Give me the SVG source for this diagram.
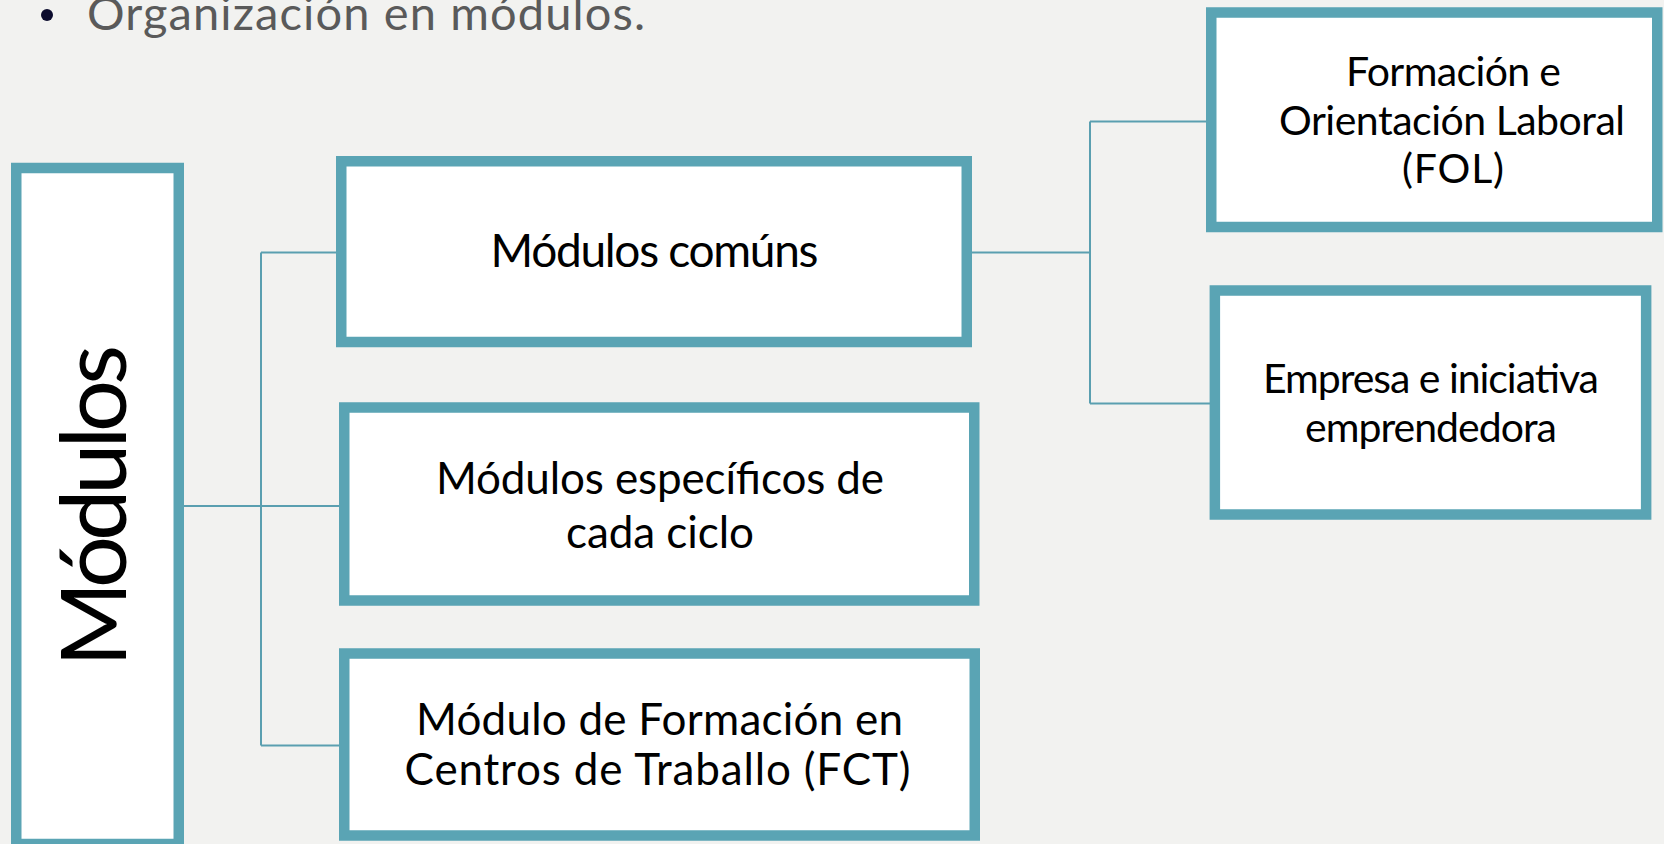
<svg xmlns="http://www.w3.org/2000/svg" width="1664" height="844" viewBox="0 0 1664 844">
<style>
.box{fill:#ffffff;stroke:#5aa4b4;stroke-width:10.5}
.con{fill:none;stroke:#5a9fb0;stroke-width:2}
text{font-family:Lato,"Open Sans","Liberation Sans",sans-serif;fill:#000000;text-anchor:middle}
.t46{font-size:46px}
.t44{font-size:44px}
.t41{font-size:41px}
.hdr{font-size:47px;fill:#5a5a5a;text-anchor:start}
</style>
<rect x="0" y="0" width="1664" height="844" fill="#f2f2f0"/>
<g id="header">
<circle cx="47" cy="15" r="6" fill="#0c0c2e"/>
<text class="hdr" x="87" y="30" textLength="558" lengthAdjust="spacing">Organización en módulos.</text>
</g>
<g id="connectors">
<path class="con" d="M184,506 H261"/>
<path class="con" d="M261,252.5 V745.5"/>
<path class="con" d="M261,252.5 H336"/>
<path class="con" d="M261,506 H339"/>
<path class="con" d="M261,745.5 H339"/>
<path class="con" d="M972,252.5 H1090"/>
<path class="con" d="M1090,121.5 V403.5"/>
<path class="con" d="M1090,121.5 H1206"/>
<path class="con" d="M1090,403.5 H1210"/>
</g>
<g id="modulos">
<rect class="box" x="16.25" y="168" width="162.5" height="676"/>
<text style="font-size:92px" transform="translate(126,506) rotate(-90)" x="0" y="0" textLength="322" lengthAdjust="spacing">Módulos</text>
</g>
<g id="comuns">
<rect class="box" x="341.25" y="161.25" width="625.5" height="180.75"/>
<text class="t46" x="654.5" y="266.7" textLength="328" lengthAdjust="spacing">Módulos comúns</text>
</g>
<g id="especificos">
<rect class="box" x="344.25" y="407.5" width="630" height="193"/>
<text class="t44" x="660" y="493.5" textLength="448" lengthAdjust="spacing">Módulos específicos de</text>
<text class="t44" x="660" y="548" textLength="188" lengthAdjust="spacing">cada ciclo</text>
</g>
<g id="fct">
<rect class="box" x="344.25" y="653.5" width="630.5" height="182"/>
<text class="t44" x="659.5" y="735" textLength="487" lengthAdjust="spacing">Módulo de Formación en</text>
<text class="t44" x="657.6" y="785" textLength="506" lengthAdjust="spacing">Centros de Traballo (FCT)</text>
</g>
<g id="fol">
<rect class="box" x="1211.25" y="12.5" width="446" height="214.5"/>
<text class="t41" x="1453.5" y="86" textLength="215" lengthAdjust="spacing">Formación e</text>
<text class="t41" x="1452" y="135" textLength="346" lengthAdjust="spacing">Orientación Laboral</text>
<text class="t41" x="1453" y="183" textLength="102" lengthAdjust="spacing">(FOL)</text>
</g>
<g id="empresa">
<rect class="box" x="1214.85" y="290.5" width="431.3" height="224"/>
<text class="t41" x="1431" y="393" textLength="336" lengthAdjust="spacing">Empresa e iniciativa</text>
<text class="t41" x="1431" y="442" textLength="252" lengthAdjust="spacing">emprendedora</text>
</g>
</svg>
